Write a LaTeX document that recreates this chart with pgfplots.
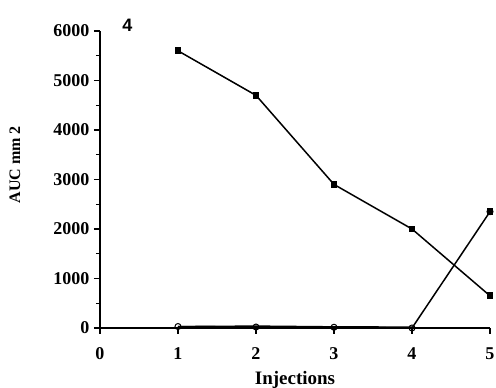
\documentclass[border=0pt]{standalone}
\usepackage{fontspec}
\setmainfont{Liberation Serif}
\newfontfamily\sansfont{Liberation Sans}
\usepackage{pgfplots}
\pgfplotsset{compat=1.18}
\begin{document}
\begin{tikzpicture}
\path[use as bounding box] (-100pt,-60pt) rectangle (396pt,328pt);
\begin{axis}[
  at={(0,0)}, anchor=origin,
  scale only axis, width=390pt, height=297pt,
  xmin=0, xmax=5, ymin=0, ymax=6000,
  axis lines=left, axis line style={-, line width=1.5pt},
  xtick={0,1,2,3,4,5}, ytick={0,1000,2000,3000,4000,5000,6000},
  minor ytick={500,1500,2500,3500,4500,5500},
  tick align=outside, major tick length=6pt, minor tick length=4pt,
  tick style={line width=1.2pt, black},
  /pgf/number format/assume math mode=true,
  /pgf/number format/1000 sep={},
  ticklabel style={font=\fontsize{18}{20}\selectfont\bfseries},
  xticklabel style={anchor=north, yshift=-10pt},
  yticklabel style={xshift=-1pt},
  xlabel={\fontsize{19}{21}\selectfont\bfseries Injections},
  ylabel={\fontsize{16}{18}\selectfont\bfseries AUC mm 2},
  xlabel style={at={(axis description cs:0.5,0)}, anchor=north, yshift=-40pt},
  ylabel style={at={(axis description cs:-0.218,0.55)}, anchor=center},
  clip=false,
]
\addplot[black, line width=1.5pt, mark=square*, mark size=2.6pt]
  coordinates {(1,5600) (2,4700) (3,2900) (4,2000) (5,650)};
\addplot[black, line width=1.5pt, mark=o, mark size=3pt, mark options={fill=white, line width=1pt}]
  coordinates {(1,30) (2,20) (3,15) (4,0) (5,2350)};
\addplot[black, line width=1.5pt, only marks, mark=square*, mark size=2.6pt]
  coordinates {(5,2350)};
\addplot[black, line width=1.8pt, no marks]
  coordinates {(1,25) (2,35) (3,20) (4,15)};
\node[font=\sansfont\fontsize{18}{20}\selectfont\bfseries] at (rel axis cs:0.07,1.02) {4};
\end{axis}
\end{tikzpicture}
\end{document}
